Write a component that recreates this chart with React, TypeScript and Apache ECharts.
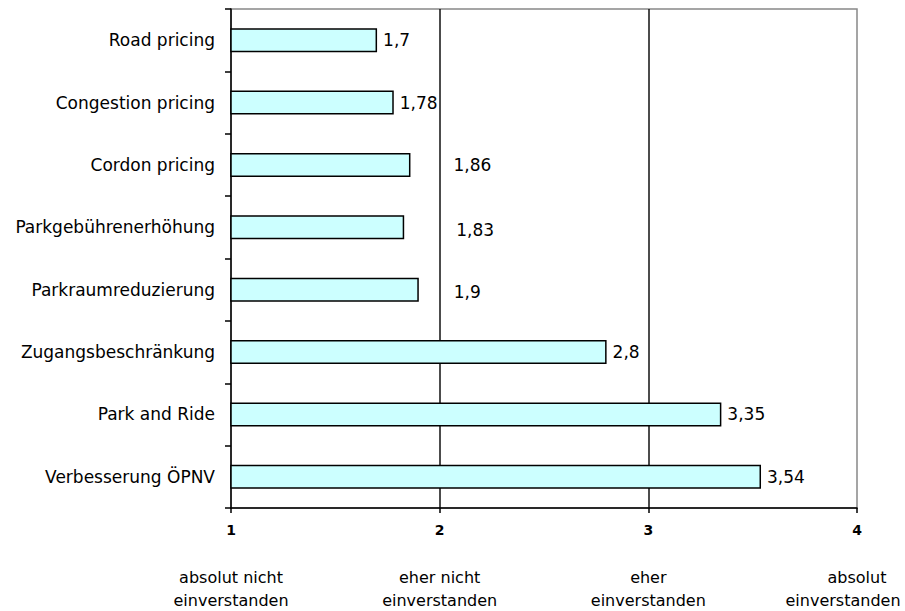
import React, { useEffect, useRef } from "react";
import * as echarts from "echarts";

const categories = [
  "Road pricing",
  "Congestion pricing",
  "Cordon pricing",
  "Parkgebührenerhöhung",
  "Parkraumreduzierung",
  "Zugangsbeschränkung",
  "Park and Ride",
  "Verbesserung ÖPNV",
];
const values = [1.7, 1.78, 1.86, 1.83, 1.9, 2.8, 3.35, 3.54];
const tickLabels = ["1", "2", "3", "4"];
const scaleLabels = [
  ["absolut nicht", "einverstanden"],
  ["eher nicht", "einverstanden"],
  ["eher", "einverstanden"],
  ["absolut", "einverstanden"],
];

const FONT = "DejaVu Sans";

export default function App() {
  const ref = useRef<HTMLDivElement>(null);
  useEffect(() => {
    if (!ref.current) return;
    const chart = echarts.init(ref.current, undefined, {
      renderer: "svg",
      width: 905,
      height: 611,
    });
    const labelOffsets: Record<number, number[]> = {
      2: [37, 0],
      3: [46, 3],
      4: [29, 2],
    };
    const data = values.map((v, i) => ({
      value: v,
      label: labelOffsets[i] ? { offset: labelOffsets[i] } : undefined,
    }));
    const scaleFormatter = (v: number) => {
      const idx = Math.round(v) - 1;
      const lines = scaleLabels[idx];
      if (!lines) return "";
      if (idx === scaleLabels.length - 1) {
        return `{t|${lines[0]}}\n{s|${lines[1]}}`;
      }
      return `{t|${lines[0]}}\n{t|${lines[1]}}`;
    };
    chart.setOption({
      animation: false,
      backgroundColor: "#fff",
      textStyle: { fontFamily: FONT, color: "#000" },
      grid: {
        left: 231,
        right: 48,
        top: 9,
        bottom: 103,
        show: true,
        borderColor: "#888",
        borderWidth: 1.5,
        containLabel: false,
        outerBoundsMode: "none",
      },
      xAxis: [
        {
          type: "value",
          min: 1,
          max: 4,
          interval: 1,
          position: "bottom",
          axisLine: { show: true, lineStyle: { color: "#000", width: 1.5 } },
          axisTick: { show: true, length: 5, lineStyle: { color: "#000", width: 1.5 } },
          axisLabel: {
            fontFamily: FONT,
            fontWeight: "bold",
            fontSize: 14,
            color: "#000",
            margin: 15,
            formatter: (v: number) => tickLabels[Math.round(v) - 1] ?? "",
          },
          splitLine: {
            show: true,
            showMinLine: false,
            showMaxLine: false,
            lineStyle: { color: "#111", width: 1.5 },
          },
        },
        {
          type: "value",
          min: 1,
          max: 4,
          interval: 1,
          position: "bottom",
          offset: 0,
          axisLine: { show: false },
          axisTick: { show: false },
          splitLine: { show: false },
          axisLabel: {
            fontFamily: FONT,
            fontSize: 16,
            lineHeight: 23,
            color: "#000",
            margin: 58,
            align: "center",
            formatter: scaleFormatter,
            rich: {
              t: { fontFamily: FONT, fontSize: 16, lineHeight: 23, color: "#000" },
              s: {
                fontFamily: FONT,
                fontSize: 16,
                lineHeight: 23,
                color: "#000",
                padding: [0, 28, 0, 0],
              },
            },
          },
        },
      ],
      yAxis: {
        type: "category",
        data: categories,
        inverse: true,
        axisLine: { show: true, lineStyle: { color: "#000", width: 1.5 } },
        axisTick: { show: true, length: 6, lineStyle: { color: "#000", width: 1.5 } },
        axisLabel: { fontFamily: FONT, fontSize: 17, color: "#000", margin: 16 },
        splitLine: { show: false },
      },
      series: [
        {
          type: "bar",
          xAxisIndex: 0,
          data,
          barWidth: 24,
          itemStyle: { color: "#CCFFFF", borderColor: "#000", borderWidth: 1.5 },
          label: {
            show: true,
            position: "right",
            distance: 6,
            fontFamily: FONT,
            fontSize: 17,
            color: "#000",
            formatter: (p: any) => String(p.value).replace(".", ","),
          },
        },
      ],
    });
    return () => chart.dispose();
  }, []);
  return (
    <div
      ref={ref}
      style={{ position: "fixed", left: 0, top: 0, width: 905, height: 611, background: "#fff" }}
    />
  );
}
